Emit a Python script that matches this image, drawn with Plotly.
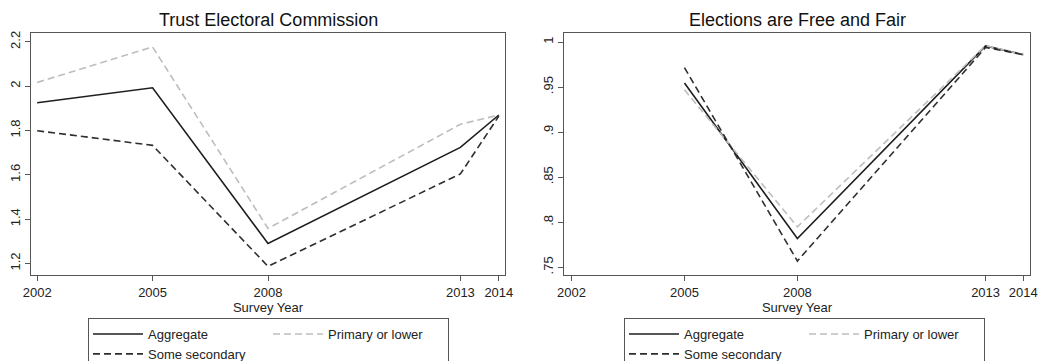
import plotly.graph_objects as go

years = [2002, 2005, 2008, 2013, 2014]
years_fair = [2005, 2008, 2013, 2014]

trust_aggregate = [1.925, 1.993, 1.290, 1.724, 1.870]
trust_primary = [2.017, 2.177, 1.358, 1.828, 1.870]
trust_secondary = [1.799, 1.733, 1.187, 1.604, 1.865]

fair_aggregate = [0.9545, 0.782, 0.9956, 0.986]
fair_primary = [0.947, 0.795, 0.996, 0.986]
fair_secondary = [0.9716, 0.757, 0.994, 0.986]

trust_ticks = [1.2, 1.4, 1.6, 1.8, 2.0, 2.2]
trust_ticktext = ["1.2", "1.4", "1.6", "1.8", "2", "2.2"]
fair_ticks = [0.75, 0.8, 0.85, 0.9, 0.95, 1.0]
fair_ticktext = [".75", ".8", ".85", ".9", ".95", "1"]
x_ticks = [2002, 2005, 2008, 2013, 2014]

series_names = ["Aggregate", "Primary or lower", "Some secondary"]

FONT = "Liberation Sans, Arial, Helvetica, sans-serif"
# page body adds an 8px margin, so the figure is drawn 8px smaller and offset
W, H = 1046, 353
OFF = 8

def px(v):
    return (v - OFF) / W

def py(v):
    return 1 - (v - OFF) / H

styles = {
    "Aggregate": dict(color="#1e1e1e", width=1.6, dash="solid"),
    "Primary or lower": dict(color="#bdbdbd", width=1.6, dash="7px,4px"),
    "Some secondary": dict(color="#2e2e2e", width=1.6, dash="7px,4px"),
}
groups = {"Aggregate": "a", "Some secondary": "a", "Primary or lower": "b"}

fig = go.Figure()

panels = [
    ("x", "y", "legend", years, [trust_aggregate, trust_primary, trust_secondary]),
    ("x2", "y2", "legend2", years_fair, [fair_aggregate, fair_primary, fair_secondary]),
]
for xa, ya, leg, xs, vals in panels:
    for name, v in zip(series_names, vals):
        fig.add_trace(go.Scatter(
            x=xs, y=v, mode="lines", name=name,
            line=styles[name], xaxis=xa, yaxis=ya, legend=leg,
            legendgroup=leg + groups[name],
        ))

ydom = [py(275), py(33)]
axis_common = dict(
    showline=True, linecolor="#555555", linewidth=1, mirror=True,
    ticks="outside", ticklen=5, tickcolor="#555555", tickwidth=1,
    showgrid=False, zeroline=False,
    tickfont=dict(family=FONT, size=13, color="#222222"),
    automargin=False,
)
title_font = dict(family=FONT, size=13, color="#222222")

legend_common = dict(
    orientation="h", xanchor="left", y=py(318), yanchor="top",
    bordercolor="#555555", borderwidth=1, itemwidth=50,
    entrywidth=115, traceorder="grouped",
    font=dict(family=FONT, size=13, color="#222222"), bgcolor="white",
)

fig.update_layout(
    width=W, height=H,
    margin=dict(l=0, r=0, t=0, b=0, autoexpand=False),
    paper_bgcolor="white", plot_bgcolor="white",
    font=dict(family=FONT, size=13, color="#222222"),
    xaxis=dict(domain=[px(31), px(505)], range=[2001.84, 2014.16],
               tickvals=x_ticks, ticktext=[str(t) for t in x_ticks],
               title=dict(text="Survey Year", standoff=2, font=title_font),
               **axis_common),
    yaxis=dict(domain=ydom, range=[1.148, 2.24], tickvals=trust_ticks,
               ticktext=trust_ticktext, tickangle=-90,
               **axis_common),
    xaxis2=dict(domain=[px(564), px(1030)], range=[2001.8, 2014.18],
                tickvals=x_ticks, ticktext=[str(t) for t in x_ticks],
                title=dict(text="Survey Year", standoff=2, font=title_font),
                anchor="y2", **axis_common),
    yaxis2=dict(domain=ydom, range=[0.7415, 1.010], tickvals=fair_ticks,
                ticktext=fair_ticktext, tickangle=-90,
                anchor="x2", **axis_common),
    legend=dict(x=px(88), **legend_common),
    legend2=dict(x=px(624), **legend_common),
    annotations=[
        dict(text="Trust Electoral Commission", x=px(268), y=py(20), xref="paper", yref="paper",
             xanchor="center", yanchor="middle",
             showarrow=False, font=dict(family=FONT, size=18, color="#111111")),
        dict(text="Elections are Free and Fair", x=px(797), y=py(20), xref="paper", yref="paper",
             xanchor="center", yanchor="middle",
             showarrow=False, font=dict(family=FONT, size=18, color="#111111")),
    ],
)

fig.write_html("out.html")
